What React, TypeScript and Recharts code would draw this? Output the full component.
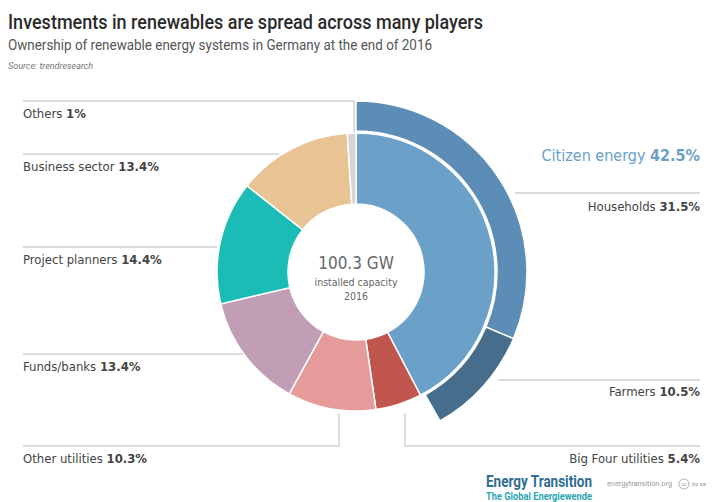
import React from 'react';
import { PieChart, Pie, Cell } from 'recharts';

// inner ring: ownership groups (share of installed capacity, %)
const ownerNames = [
  'Citizen energy',
  'Big Four utilities',
  'Other utilities',
  'Funds/banks',
  'Project planners',
  'Business sector',
  'Others',
];
const ownerShares = [42.5, 5.4, 10.3, 13.4, 14.4, 13.4, 1];
const ownerColors = ['#6ba0c9', '#c1564e', '#e69b9b', '#c29db6', '#1cbcb6', '#e8c494', '#d4d4d4'];

// outer ring: split of citizen energy
const citizenNames = ['Households', 'Farmers'];
const citizenShares = [31.5, 10.5];
const citizenColors = ['#5b8db6', '#466e8c'];

const totalShare = ownerShares.reduce((a, b) => a + b, 0);

const innerData = ownerNames.map((name, i) => ({ name, value: ownerShares[i] }));
const outerData = [
  ...citizenNames.map((name, i) => ({ name, value: citizenShares[i] })),
  { name: 'rest', value: totalShare - citizenShares.reduce((a, b) => a + b, 0) },
];

const W = 721;
const H = 502;
const CX = 356;
const CY = 272;

const font = '"Liberation Sans Narrow", "DejaVu Sans Condensed", "Noto Sans", sans-serif';
const titleFont = 'Roboto, "DejaVu Sans", sans-serif';
const lineColor = '#cfcfcf';
const textColor = '#444';

function Label({ x, y, name, value, anchor = 'start' }: { x: number; y: number; name: string; value: string; anchor?: 'start' | 'end' }) {
  return (
    <text x={x} y={y} fontSize={13} fill={textColor} textAnchor={anchor} fontFamily={font}>
      {name} <tspan fontWeight={700}>{value}</tspan>
    </text>
  );
}

export default function App() {
  return (
    <div style={{ position: 'absolute', left: 0, top: 0, width: W, height: H, background: '#fff', fontFamily: font }}>
      <PieChart width={W} height={H} margin={{ top: 0, right: 0, bottom: 0, left: 0 }}>
        <Pie
          data={innerData}
          dataKey="value"
          cx={CX}
          cy={CY}
          innerRadius={68}
          outerRadius={139}
          startAngle={90}
          endAngle={-270}
          stroke="#fff"
          strokeWidth={1.5}
          isAnimationActive={false}
        >
          {innerData.map((d, i) => (
            <Cell key={d.name} fill={ownerColors[i]} />
          ))}
        </Pie>
        <Pie
          data={outerData}
          dataKey="value"
          cx={CX}
          cy={CY}
          innerRadius={141}
          outerRadius={171}
          startAngle={90}
          endAngle={-270}
          stroke="#fff"
          strokeWidth={1.5}
          isAnimationActive={false}
        >
          {outerData.map((d, i) => (
            <Cell
              key={d.name}
              fill={i < citizenColors.length ? citizenColors[i] : 'none'}
              stroke={i < citizenColors.length ? '#fff' : 'none'}
            />
          ))}
        </Pie>
      </PieChart>
      <svg width={W} height={H} style={{ position: 'absolute', left: 0, top: 0, pointerEvents: 'none' }}>
        <text x={8} y={29} fontSize={20} fontWeight={500} fill="#2b2b2b" fontFamily={titleFont}
          textLength={475} lengthAdjust="spacingAndGlyphs">
          Investments in renewables are spread across many players
        </text>
        <text x={8} y={50} fontSize={15} fill="#555" fontFamily={titleFont}
          textLength={424} lengthAdjust="spacingAndGlyphs">
          Ownership of renewable energy systems in Germany at the end of 2016
        </text>
        <text x={8} y={69} fontSize={9} fontStyle="italic" fill="#777" fontFamily={titleFont}>
          Source: trendresearch
        </text>

        {/* leader lines, left */}
        <polyline points="23,101 354,101 354,133" fill="none" stroke={lineColor} strokeWidth={1.3} />
        <line x1={23} y1={154} x2={279} y2={154} stroke={lineColor} strokeWidth={1.3} />
        <line x1={23} y1={247} x2={217} y2={247} stroke={lineColor} strokeWidth={1.3} />
        <line x1={23} y1={354} x2={243} y2={354} stroke={lineColor} strokeWidth={1.3} />
        <polyline points="23,446 339,446 339,413" fill="none" stroke={lineColor} strokeWidth={1.3} />
        {/* leader lines, right */}
        <line x1={515} y1={193} x2={700} y2={193} stroke={lineColor} strokeWidth={1.3} />
        <line x1={498} y1={380} x2={700} y2={380} stroke={lineColor} strokeWidth={1.3} />
        <polyline points="405,413 405,446 700,446" fill="none" stroke={lineColor} strokeWidth={1.3} />

        <Label x={23} y={118} name="Others" value="1%" />
        <Label x={23} y={171} name="Business sector" value="13.4%" />
        <Label x={23} y={264} name="Project planners" value="14.4%" />
        <Label x={23} y={371} name="Funds/banks" value="13.4%" />
        <Label x={23} y={463} name="Other utilities" value="10.3%" />

        <text x={700} y={161} fontSize={16} fill="#6ba0c9" textAnchor="end" fontFamily={font}>
          Citizen energy <tspan fontWeight={700}>42.5%</tspan>
        </text>
        <Label x={700} y={211} name="Households" value="31.5%" anchor="end" />
        <Label x={700} y={396} name="Farmers" value="10.5%" anchor="end" />
        <Label x={700} y={463} name="Big Four utilities" value="5.4%" anchor="end" />

        {/* centre */}
        <text x={CX} y={269} fontSize={17} fill="#666" textAnchor="middle" fontFamily={font}>
          100.3 GW
        </text>
        <text x={CX} y={286} fontSize={10.5} fill="#666" textAnchor="middle" fontFamily={font}>
          installed capacity
        </text>
        <text x={CX} y={300} fontSize={10.5} fill="#666" textAnchor="middle" fontFamily={font}>
          2016
        </text>

        {/* footer */}
        <text x={486} y={487} fontSize={16} fontWeight={700} fill="#2f6d93" fontFamily={titleFont}
          textLength={106} lengthAdjust="spacingAndGlyphs">
          Energy Transition
        </text>
        <text x={486} y={500} fontSize={11} fontWeight={700} fill="#2aa5b4" fontFamily={titleFont}
          textLength={106} lengthAdjust="spacingAndGlyphs">
          The Global Energiewende
        </text>
        <text x={607} y={486} fontSize={7} fill="#999" fontFamily={titleFont}
          textLength={65} lengthAdjust="spacingAndGlyphs">
          energytransition.org
        </text>
        <circle cx={684} cy={484} r={5} fill="none" stroke="#999" strokeWidth={0.8} />
        <text x={684} y={486} fontSize={5} fill="#999" textAnchor="middle" fontFamily={titleFont}>
          cc
        </text>
        <text x={692} y={486} fontSize={6} fill="#999" fontFamily={titleFont}>
          by sa
        </text>
      </svg>
    </div>
  );
}
